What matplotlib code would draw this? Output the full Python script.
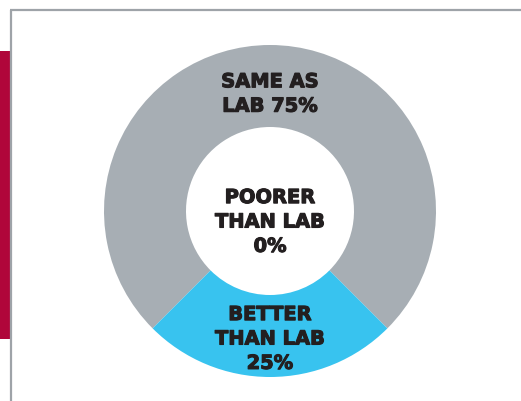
import matplotlib
matplotlib.use('Agg')
import matplotlib.pyplot as plt
import matplotlib.patheffects as pe
from matplotlib.patches import Rectangle

# data
labels = ['SAME AS\nLAB 75%', 'BETTER\nTHAN LAB\n25%', 'POORER\nTHAN LAB\n0%']
values = [75, 25, 0]
colors = ['#A7AEB4', '#38C3EF', '#FFFFFF']

W, H = 521, 402
fig = plt.figure(figsize=(W / 100, H / 100), dpi=100)
ax = fig.add_axes([0, 0, 1, 1])

cx, cy = 270, H - 212
r_out = 166
r_in = 84

ax.pie(values, colors=colors, startangle=-45, counterclock=True,
       radius=r_out, center=(cx, cy),
       wedgeprops=dict(width=r_out - r_in, linewidth=0))

ax.set_xlim(0, W)
ax.set_ylim(0, H)
ax.set_aspect('auto')
ax.axis('off')

# frame lines and red tab
ax.plot([10, W], [H - 11, H - 11], color='#9EA3A8', lw=1.6, solid_capstyle='butt')
ax.plot([10.5, 10.5], [0, H - 11], color='#9EA3A8', lw=1.6, solid_capstyle='butt')
ax.add_patch(Rectangle((0, H - 340), 10, 288, color='#B0063A', lw=0))

font = dict(family=['DejaVu Sans'], weight='bold', fontsize=14,
            color='#231F20', ha='center', va='center', linespacing=1.36,
            path_effects=[pe.withStroke(linewidth=0.8, foreground='#231F20')])
ax.text(cx, H - 95, labels[0], **font)
ax.text(cx, H - 340, labels[1], **font)
ax.text(cx, H - 223, labels[2], **font)

fig.savefig('out.png', dpi=100)
